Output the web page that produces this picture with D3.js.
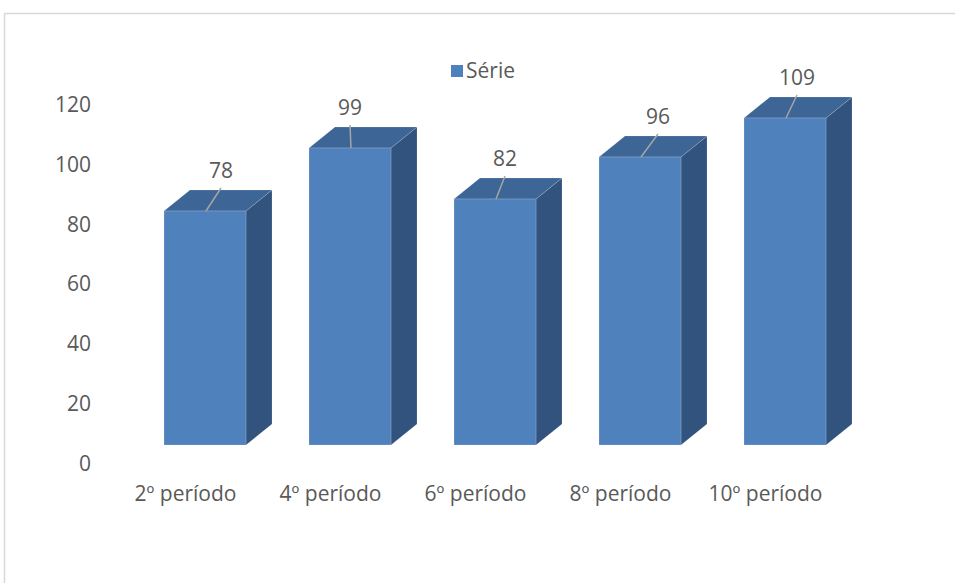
<!DOCTYPE html>
<html>
<head>
<meta charset="utf-8">
<script src="https://cdn.jsdelivr.net/npm/d3@7/dist/d3.min.js"></script>
<style>
  html, body { margin: 0; padding: 0; background: #ffffff; }
  svg { display: block; }
  text { font-family: "Open Sans", "Noto Sans", sans-serif; fill: #595959; }
</style>
</head>
<body>
<svg id="chart" width="955" height="583"></svg>
<script>
// ---- data ----
const categories = ["2º período", "4º período", "6º período", "8º período", "10º período"];
const values = [78, 99, 82, 96, 109];
const seriesName = "Série";
const yTicks = [0, 20, 40, 60, 80, 100, 120];

// ---- layout / style ----
const W = 955, H = 583;
const depthX = 26, depthY = -21;
const barWidth = 82;
const labelShift = [16, 0, 10, 18, 12];
const colFront = "#4f81bd", colTop = "#3d6595", colSide = "#32537e";
const fontSize = 21;

const svg = d3.select("#chart");

// chart frame
svg.append("rect")
  .attr("x", 4.5).attr("y", 13.5)
  .attr("width", 1200).attr("height", 1200)
  .attr("fill", "none").attr("stroke", "#d9d9d9").attr("stroke-width", 1.5);

// scales
const x = d3.scalePoint().domain(categories).range([205, 785]);
const yFront = d3.scaleLinear().domain([0, 120]).range([445, 85]);
const yAxisScale = d3.scaleLinear().domain([0, 120]).range([463, 104]);

// y axis labels
const yAxis = d3.axisLeft(yAxisScale).tickValues(yTicks).tickSize(0).tickPadding(0);
const gy = svg.append("g").attr("transform", "translate(91,0)").call(yAxis);
gy.select(".domain").remove();
gy.selectAll("text")
  .attr("font-family", "'Open Sans', 'Noto Sans', sans-serif")
  .attr("font-size", fontSize).attr("fill", "#595959").attr("dy", "0.35em");

// x axis labels
const xAxis = d3.axisBottom(x).tickSize(0).tickPadding(0);
const gx = svg.append("g").attr("transform", "translate(-20,482)").call(xAxis);
gx.select(".domain").remove();
gx.selectAll("text")
  .attr("font-family", "'Open Sans', 'Noto Sans', sans-serif")
  .attr("font-size", fontSize).attr("fill", "#595959").attr("dy", "0.35em").attr("y", 12);

// bars
const bars = svg.append("g").selectAll("g.bar")
  .data(values.map((v, i) => ({ v, c: categories[i], i })))
  .join("g").attr("class", "bar");

bars.each(function (d) {
  const g = d3.select(this);
  const x0 = x(d.c) - barWidth / 2, x1 = x(d.c) + barWidth / 2;
  const yt = yFront(d.v), yb = yFront(0);
  // side
  g.append("path")
    .attr("d", `M${x1},${yt} L${x1 + depthX},${yt + depthY} L${x1 + depthX},${yb + depthY} L${x1},${yb} Z`)
    .attr("fill", colSide).attr("stroke", "rgba(255,255,255,0.25)").attr("stroke-width", 0.6);
  // top
  g.append("path")
    .attr("d", `M${x0},${yt} L${x1},${yt} L${x1 + depthX},${yt + depthY} L${x0 + depthX},${yt + depthY} Z`)
    .attr("fill", colTop).attr("stroke", "rgba(255,255,255,0.25)").attr("stroke-width", 0.6);
  // front
  g.append("rect")
    .attr("x", x0).attr("y", yt).attr("width", barWidth).attr("height", yb - yt)
    .attr("fill", colFront).attr("stroke", "rgba(255,255,255,0.3)").attr("stroke-width", 0.6);
  // leader line
  const lx = x(d.c) + labelShift[d.i];
  g.append("line")
    .attr("x1", x(d.c) + 1).attr("y1", yt)
    .attr("x2", lx).attr("y2", yt - 23)
    .attr("stroke", "#a6a6a6").attr("stroke-width", 1.5);
  // value label
  g.append("text")
    .attr("x", lx).attr("y", yt - 40).attr("dy", "0.35em")
    .attr("text-anchor", "middle").attr("font-size", fontSize).attr("fill", "#404040")
    .text(d.v);
});

// legend
const leg = svg.append("g").attr("transform", "translate(451,65)");
leg.append("rect").attr("width", 12).attr("height", 12).attr("fill", colFront);
leg.append("text").attr("x", 15).attr("y", 6).attr("dy", "0.35em")
  .attr("font-size", fontSize).attr("fill", "#595959").text(seriesName);
</script>
</body>
</html>
